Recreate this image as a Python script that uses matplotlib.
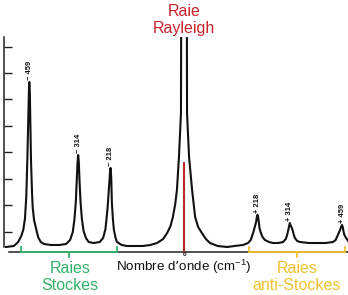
import numpy as np
import matplotlib
matplotlib.use("Agg")
import matplotlib.pyplot as plt

# ---- data (wavenumber shift in cm^-1, intensity in arbitrary units) ----
shift = [-528, -505, -492, -483, -477, -472, -468, -465, -462, -460, -459,
         -457.5, -456, -454, -451, -449, -445, -440, -433, -425, -415, -395,
         -370, -350, -338, -330, -325, -321, -318, -316, -314, -312, -310,
         -307, -303, -298, -291, -283, -268, -250, -240, -233, -227, -222,
         -219, -218, -216, -214, -211, -208, -203, -199, -185, -169, -122,
         -100, -80, -62, -50, -40, -33, -26, -21, -15, -11, -9, -8.7, -8.5,
         0, 8.5, 8.7, 9, 11, 15, 24, 33, 42, 53, 65, 77, 100, 128, 150, 175,
         190, 198, 205, 210, 214, 216.5, 218, 219.5, 222, 224, 228, 233, 240,
         252, 264, 280, 294, 302, 306, 310, 312, 314, 316, 320, 323, 326, 329,
         336, 344, 370, 395, 420, 442, 450, 454, 459, 463, 466, 469, 471, 473,
         476, 481, 487]
intensity = [0, 1, 5, 11, 17, 28, 50, 85, 130, 158, 165,
             155, 125, 87, 55, 40, 27, 20, 10, 5, 3, 2,
             2, 3, 7, 15, 28, 45, 68, 84, 92, 84, 66,
             45, 28, 16, 9, 5, 4, 5, 9, 18, 38, 62,
             77, 79, 70, 44, 28, 17, 9, 5, 2, 1, 1,
             2, 4, 8, 14, 21, 30, 43, 57, 90, 120, 134, 180, 230,
             800, 230, 180, 134, 120, 90, 57, 30, 20, 14, 8, 4, 1, 0, 1, 2,
             4, 7, 14, 20, 25, 31, 32, 31, 25, 19, 14, 10, 7,
             5, 4, 4, 5, 8, 12, 18, 21, 24, 22, 19, 16, 12, 9,
             6, 5, 4, 4, 4, 5, 7, 10, 14, 17, 20, 22, 20, 16,
             12, 9, 6]

peak_shift = [-459, -314, -218, 218, 314, 469]
peak_height = [165, 92, 79, 32, 24, 22]
peak_labels = ["\u2212 459", "\u2212 314", "\u2212 218", "+ 218", "+ 314", "+ 459"]

ytick_values = [15, 42, 68, 95, 121, 148, 174, 200]

stokes_range = [-484, -199]
antistokes_range = [193, 478]
rayleigh_marker_top = 85

# ---- style ----
RED_TXT = "#c8232c"
RED_LINE = "#b8282c"
GREEN = "#33b46c"
YELLOW = "#f2c12e"
DARK = "#111111"
FONT = ["Liberation Sans", "DejaVu Sans"]

W, H = 348, 295
fig = plt.figure(figsize=(W / 100, H / 100), dpi=100)
# axes spanning px x 4..348, px y 37..252
ax = fig.add_axes([4 / W, (H - 252) / H, (W - 4) / W, (252 - 37) / H])
ax.set_xlim(-534.1, 486.6)
ax.set_ylim(-5, 210)

ax.plot(shift, intensity, color=DARK, lw=1.5, solid_joinstyle="round")

# spines
for s in ["top", "right"]:
    ax.spines[s].set_visible(False)
ax.spines["left"].set_bounds(0, 210)
ax.spines["bottom"].set_bounds(-519, 486.6)
for s in ["left", "bottom"]:
    ax.spines[s].set_color("#222222")
    ax.spines[s].set_linewidth(1.1)
ax.set_xticks([])
ax.set_yticks(ytick_values)
ax.tick_params(axis="y", direction="in", length=6, width=1.0, color="#222222",
               labelleft=False)

# Rayleigh marker
ax.plot([0, 0], [-5, rayleigh_marker_top], color=RED_LINE, lw=1.5,
        solid_capstyle="butt", zorder=3)

# brackets
def bracket(rng, color):
    x0, x1 = rng
    xm = (x0 + x1) / 2
    ax.plot([x0, x0, x1, x1], [0, -5, -5, 0], color=color, lw=1.3,
            clip_on=False, zorder=4, solid_joinstyle="miter")
    ax.plot([xm, xm], [-5, -10], color=color, lw=1.3, clip_on=False, zorder=4)

bracket(stokes_range, GREEN)
bracket(antistokes_range, YELLOW)

# peak labels
for xs, yh, lab in zip(peak_shift, peak_height, peak_labels):
    ax.annotate(lab, (xs, yh), xytext=(0, 1.5), textcoords="offset points",
                rotation=90, ha="center", va="bottom", fontsize=5.4,
                fontweight="bold", family=FONT, color=DARK)

# texts
ax.text(0, -7.6, "0", ha="center", va="center", fontsize=4.6, fontweight="bold",
        family=FONT, color=DARK, clip_on=False)
ax.text(0, -24.3, "Nombre d\u2019onde (cm$^{\\mathregular{-1}}$)", ha="center",
        va="baseline", fontsize=9.6, family=FONT, color="#111111")
ax.text(0, 227, "Raie\nRayleigh", ha="center", va="center", fontsize=11.5,
        family=FONT, color=RED_TXT, linespacing=1.1)
ax.text(-338, -30, "Raies\nStockes", ha="center", va="center", fontsize=11.5,
        family=FONT, color=GREEN, linespacing=1.2)
ax.text(335, -30, "Raies\nanti-Stockes", ha="center", va="center",
        fontsize=11.5, family=FONT, color=YELLOW, linespacing=1.2)

fig.savefig("out.png", dpi=100)
